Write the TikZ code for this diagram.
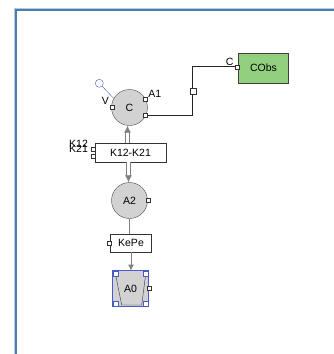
\documentclass[tikz,border=0pt]{standalone}
\usepackage{fontspec}
\setmainfont{Liberation Sans}
\usetikzlibrary{arrows.meta,positioning,calc}
\definecolor{frameblue}{RGB}{74,126,176}
\definecolor{obsgreen}{RGB}{146,208,128}
\definecolor{selblue}{RGB}{70,90,200}

\begin{document}
\begin{tikzpicture}[x=1pt,y=-1pt,
  font=\fontsize{10.5}{12}\selectfont,
  comp/.style={circle,draw=gray!60!black,fill=gray!35,minimum size=36pt,inner sep=0pt},
  flow/.style={draw=black!80,fill=white,minimum height=19pt,inner sep=2pt},
  port/.style={draw=black!80,fill=white,minimum size=4pt,inner sep=0pt},
  xfer/.style={draw=gray,double=white,double distance=2.6pt,line width=0.8pt,
               -{Latex[length=7pt,width=7pt]}},
  wire/.style={draw=black!85,line width=0.6pt},
  handle/.style={draw=selblue,fill=white,minimum size=5pt,inner sep=0pt},
  lbl/.style={inner sep=1pt}
]
\useasboundingbox (0,0) rectangle (334,354);
% frame
\draw[frameblue!40,line width=1pt] (14,354) -- (14,8) -- (334,8);
\draw[frameblue,line width=1.8pt] (16,354) -- (16,10) -- (334,10);

% compartments
\node[comp] (c)  at (129.5,107.5) {C};
\node[comp] (a2) at (129.5,200.5) {A2};
\node[flow,minimum width=71pt] (k) at (130.5,152.5) {K12-K21};
\node[flow,minimum width=41pt,minimum height=18pt] (kepe) at (131,243) {KePe};
\node[draw=black!75,fill=obsgreen,minimum width=50pt,minimum height=30pt] (cobs) at (263.5,67.7) {CObs};
% output compartment (selected)
\node[draw=selblue,minimum width=35.5pt,minimum height=35.5pt] (sel) at (130.5,288.5) {};
\fill[gray!35] (sel.north west) rectangle (sel.south east);
\draw[black!80,fill=gray!35] (115,271.7) -- (121.7,305) -- (141.7,305) -- (146,271.7);
\node (a0) at (sel.center) {A0};
\draw[selblue] (sel.north west) rectangle (sel.south east);
\node[handle,anchor=north west] at (sel.north west) {};
\node[handle,anchor=north east] at (sel.north east) {};
\node[handle,anchor=south west] at (sel.south west) {};
\node[handle,anchor=south east] at (sel.south east) {};

% ports
\node[port] (cv)   at ([xshift=1pt]c.west) {};
\node[port] (ca1)  at ([xshift=-0.5pt]c.28) {};
\node[port] (cr)   at ([xshift=-0.5pt]c.-25) {};
\node[port] (a2p)  at (a2.east) {};
\node[port] (kp1)  at ($(k.west)+(-1.5,-3.5)$) {};
\node[port] (kp2)  at ($(k.west)+(-1.5,3.5)$) {};
\node[port] (kep)  at ([xshift=-1.5pt]kepe.west) {};
\node[port] (a0p)  at ([xshift=1pt]sel.east) {};
\node[port] (cop)  at ([xshift=-1.5pt]cobs.west |- 0,66.7) {};
\node[port,minimum size=6pt] (wp) at (192.7,90.7) {};

% labels
\node[lbl,anchor=south east] (lv)  at ([yshift=-0.5pt]cv.north west) {V};
\node[lbl,anchor=south west] (la1) at (ca1.east) {A1};
\node[lbl,anchor=south east] (lc)  at (cop.west) {C};
\node[lbl,left=2pt of kp1,yshift=5.5pt] (lk12) {K12};
\node[lbl,left=2pt of kp1,yshift=0pt]   (lk21) {K21};

% input
\node[circle,draw=selblue,minimum size=8pt,inner sep=0pt] (vin) at (99.3,83.3) {};
\draw[selblue] (vin) -- (c.150);

% connections
\draw[wire] (cr.east) -| (wp.south);
\draw[wire] (wp.north) |- (cop.west);
\draw[xfer] ([xshift=-3pt]k.north) -- ([xshift=-3pt]k.north |- c.south);
\draw[xfer] ([xshift=-2pt]k.south) -- ([xshift=-2pt]k.south |- a2.north);
\draw[gray,line width=0.9pt] (a2.south) -- (a2.south |- kepe.north);
\draw[gray,line width=0.9pt,-{Latex[length=6pt,width=6pt]}] (kepe.south) -- (kepe.south |- sel.north);
\end{tikzpicture}
\end{document}
